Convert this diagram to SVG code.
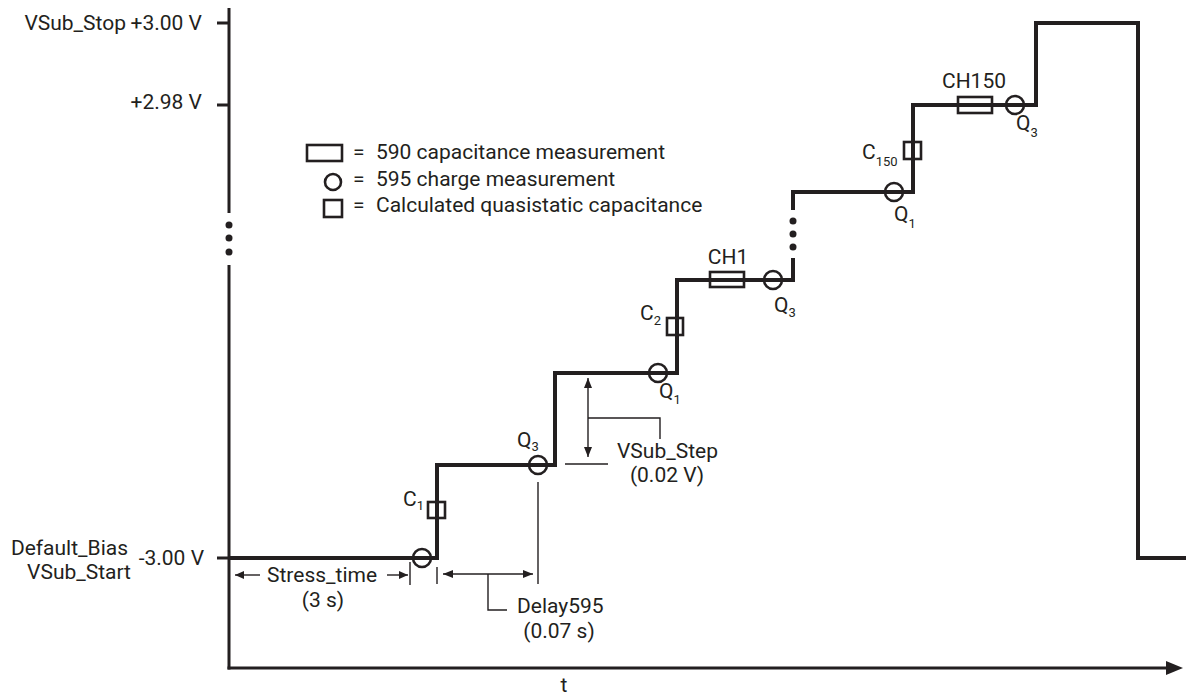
<svg xmlns="http://www.w3.org/2000/svg" width="1186" height="696" viewBox="0 0 1186 696">
<defs>
<style>
text{font-family:Roboto,"Liberation Sans",sans-serif;font-size:21px;fill:#231f20}
.sub{font-size:13px}
.axis{stroke:#231f20;stroke-width:3;fill:none}
.wave{stroke:#231f20;stroke-width:4;fill:none;stroke-linejoin:miter}
.thin{stroke:#231f20;stroke-width:1.4;fill:none}
.mk{stroke:#231f20;stroke-width:2.6;fill:none}
.dot{fill:#231f20}
</style>
<marker id="ah" viewBox="0 0 10 8" refX="10" refY="4" markerWidth="10" markerHeight="8" orient="auto-start-reverse" markerUnits="userSpaceOnUse"><path d="M0,0 L10,4 L0,8 z" fill="#231f20"/></marker>
<marker id="ahs" viewBox="0 0 9 8" refX="9" refY="4" markerWidth="9" markerHeight="8" orient="auto-start-reverse" markerUnits="userSpaceOnUse"><path d="M0,0 L9,4 L0,8 z" fill="#231f20"/></marker>
</defs>
<rect width="1186" height="696" fill="#ffffff"/>

<g id="axes">
<path class="axis" d="M229,8 V213 M229,265 V669.5"/>
<path class="axis" d="M227.5,668 H1168"/>
<polygon points="1183,668 1166,661 1166,675" fill="#231f20"/>
<path class="axis" d="M217,23 H229 M217,105 H229 M217,558 H229"/>
<circle class="dot" cx="229" cy="225" r="3.5"/>
<circle class="dot" cx="229" cy="238" r="3.5"/>
<circle class="dot" cx="229" cy="252" r="3.5"/>
<text x="126" y="30" text-anchor="end">VSub_Stop</text>
<text x="202" y="30" text-anchor="end">+3.00 V</text>
<text x="202" y="109" text-anchor="end">+2.98 V</text>
<text x="204" y="565" text-anchor="end">-3.00 V</text>
<text x="128" y="555" text-anchor="end">Default_Bias</text>
<text x="131" y="579" text-anchor="end">VSub_Start</text>
<text x="564" y="692" text-anchor="middle">t</text>
</g>

<g id="legend">
<rect class="mk" x="307" y="145" width="35" height="16"/>
<circle class="mk" cx="333" cy="182" r="8"/>
<rect class="mk" x="324" y="200" width="18" height="17"/>
<text x="353" y="159">=</text>
<text x="353" y="186">=</text>
<text x="353" y="212">=</text>
<text x="376" y="159">590 capacitance measurement</text>
<text x="376" y="186">595 charge measurement</text>
<text x="376" y="212">Calculated quasistatic capacitance</text>
</g>

<g id="waveform">
<path class="wave" d="M229,558 H437 V465 H555 V373 H677 V280 H793 V258"/>
<path class="wave" d="M793,210 V192 H913 V105 H1036 V23 H1138 V558 H1188"/>
<circle class="dot" cx="793" cy="221" r="3.5"/>
<circle class="dot" cx="793" cy="234" r="3.5"/>
<circle class="dot" cx="793" cy="247" r="3.5"/>
</g>

<g id="measurements">
<circle class="mk" cx="422" cy="558" r="9"/>
<circle class="mk" cx="538" cy="465" r="9"/>
<circle class="mk" cx="658" cy="373" r="9"/>
<circle class="mk" cx="773" cy="280" r="9"/>
<circle class="mk" cx="894" cy="192" r="9"/>
<circle class="mk" cx="1015" cy="105" r="9"/>
<rect class="mk" x="428" y="502" width="17" height="16"/>
<rect class="mk" x="667" y="318" width="16" height="17"/>
<rect class="mk" x="904" y="142" width="17" height="17"/>
<rect class="mk" x="710" y="272" width="34" height="15"/>
<rect class="mk" x="958" y="97" width="34" height="16"/>
</g>

<g id="labels">
<text x="403" y="506">C<tspan class="sub" dy="4">1</tspan></text>
<text x="640" y="320">C<tspan class="sub" dy="5">2</tspan></text>
<text x="862" y="159">C<tspan class="sub" dy="7">150</tspan></text>
<text x="517" y="447">Q<tspan class="sub" dy="4">3</tspan></text>
<text x="659" y="398">Q<tspan class="sub" dy="6">1</tspan></text>
<text x="774" y="312">Q<tspan class="sub" dy="5">3</tspan></text>
<text x="894" y="221">Q<tspan class="sub" dy="7">1</tspan></text>
<text x="1016" y="130">Q<tspan class="sub" dy="7">3</tspan></text>
<text x="728" y="264" text-anchor="middle">CH1</text>
<text x="974" y="88" text-anchor="middle">CH150</text>
</g>

<g id="connectors">
<path class="thin" d="M588,378 V457" marker-start="url(#ah)" marker-end="url(#ah)"/>
<path class="thin" d="M588,418 H660 V439"/>
<path class="thin" d="M565,464 H608"/>
<path class="thin" d="M538,482 V584"/>
<path class="thin" d="M443,574 H533" marker-start="url(#ah)" marker-end="url(#ah)"/>
<path class="thin" d="M488,574 V610 H507"/>
<path class="thin" d="M260,575 H235" marker-end="url(#ahs)"/>
<path class="thin" d="M387,575 H408" marker-end="url(#ahs)"/>
<path class="thin" d="M410,562 V585"/>
<path class="thin" d="M437,567 V584"/>
</g>

<g id="annotations">
<text x="617" y="458">VSub_Step</text>
<text x="667" y="482" text-anchor="middle">(0.02 V)</text>
<text x="267" y="582">Stress_time</text>
<text x="323" y="607" text-anchor="middle">(3 s)</text>
<text x="517" y="613">Delay595</text>
<text x="559" y="638" text-anchor="middle">(0.07 s)</text>
</g>
</svg>
